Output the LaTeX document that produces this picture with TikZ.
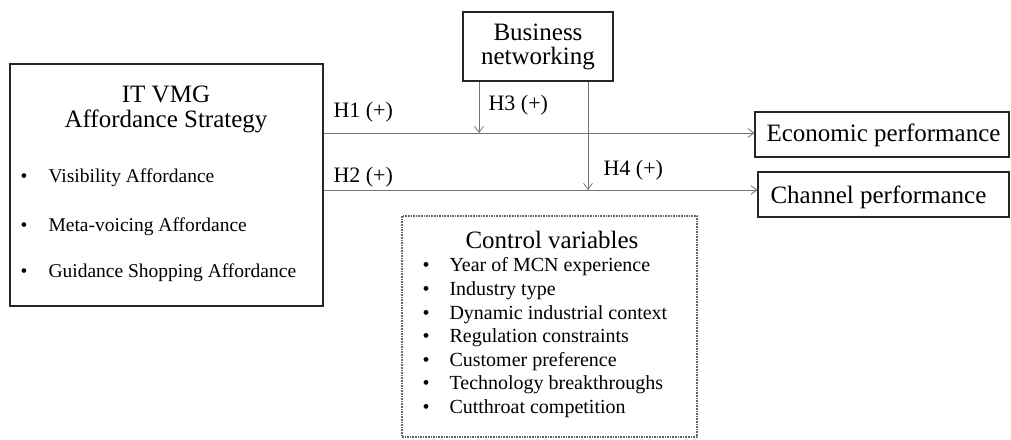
\documentclass[tikz,border=0pt]{standalone}
\usepackage{fontspec}
\setmainfont{Liberation Serif}
\usetikzlibrary{arrows.meta}
\begin{document}
\begin{tikzpicture}[x=1pt,y=-1pt,
  box/.style={draw=black!85, line width=1.1pt, inner sep=0pt},
  link/.style={draw=black!55, line width=0.9pt, -{Straight Barb[length=6pt,width=9pt,line width=0.8pt]}},
  big/.style={font=\fontsize{25}{28}\selectfont},
  item/.style={font=\fontsize{19.5}{22}\selectfont, anchor=west},
  hlab/.style={font=\fontsize{22}{24}\selectfont, anchor=west}
]
\useasboundingbox (0,0) rectangle (1011,439);

% strategy box
\node[box, minimum width=313pt, minimum height=242pt] (strat) at (166.5,185) {};
\node[big, align=center] (stratT) at (166,109) {IT VMG\\[-3pt]Affordance Strategy};
\foreach \yy/\txt [count=\i] in {178/Visibility Affordance, 227/Meta-voicing Affordance, 273/Guidance Shopping Affordance}{
  \node[item] (sb\i) at (17,\yy) {•};
  \node[item] (si\i) at (45,\yy) {\txt};
}

% moderator box
\node[box, minimum width=150pt, minimum height=69pt, big, align=center] (biz) at (538,46.5) {Business\\[-4pt]networking};

% outcome boxes
\node[box, minimum width=254pt, minimum height=45pt] (econ) at (882,134.5) {};
\node[big, anchor=west] (econT) at (763,135) {Economic performance};
\node[box, minimum width=251pt, minimum height=45pt] (chan) at (883.5,194.5) {};
\node[big, anchor=west] (chanT) at (767,197) {Channel performance};

% control box
\node[draw=black!60, line width=1.8pt, dash pattern=on 1.6pt off 1pt,
      minimum width=295pt, minimum height=221pt] (ctrl) at (549.5,326.5) {};
\node[big] (ctrlT) at (552,240) {Control variables};
\foreach \yy/\txt [count=\i] in {267/Year of MCN experience, 291/Industry type, 315/Dynamic industrial context,
  338/Regulation constraints, 362/Customer preference, 385/Technology breakthroughs, 409/Cutthroat competition}{
  \node[item, font=\fontsize{20}{22}\selectfont] (cb\i) at (419,\yy) {•};
  \node[item, font=\fontsize{20}{22}\selectfont] (ci\i) at (446,\yy) {\txt};
}

% paths
\coordinate (h1s) at (strat.east |- 0,133);
\coordinate (h1e) at (econ.west |- 0,133);
\coordinate (h2s) at (strat.east |- 0,190);
\coordinate (h2e) at (chan.west |- 0,190);
\draw[link] (h1s) -- (h1e);
\draw[link] (h2s) -- (h2e);
\coordinate (h3s) at (479,0 |- biz.south);
\coordinate (h3e) at (479,133);
\coordinate (h4s) at (588,0 |- biz.south);
\coordinate (h4e) at (588,190);
\draw[link] (h3s) -- (h3e);
\draw[link] (h4s) -- (h4e);

% hypothesis labels
\node[hlab] (l1) at (330,112) {H1 (+)};
\node[hlab] (l2) at (330,177) {H2 (+)};
\node[hlab] (l3) at (485,105) {H3 (+)};
\node[hlab] (l4) at (600,170) {H4 (+)};
\end{tikzpicture}
\end{document}
